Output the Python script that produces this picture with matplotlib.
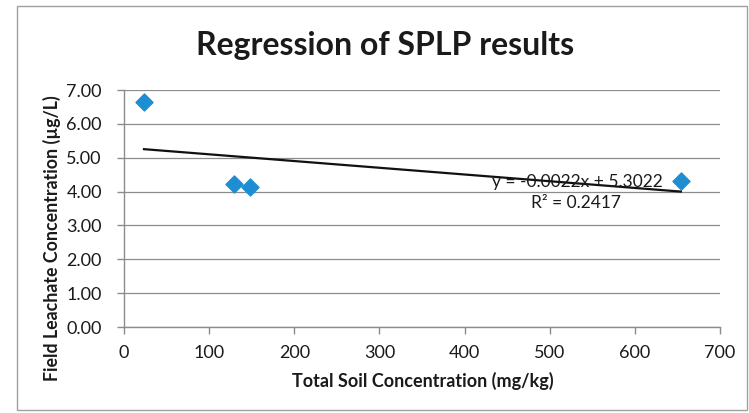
import matplotlib
matplotlib.use("Agg")
import matplotlib.pyplot as plt
import numpy as np
from matplotlib.patches import Rectangle

plt.rcParams['font.family'] = ['Lato', 'DejaVu Sans']

# Data
soil_conc = [23.5, 129, 148, 654]          # mg/kg
leachate_conc = [6.64, 4.22, 4.13, 4.31]   # µg/L
slope = -0.0022       # as printed on chart
intercept = 5.3022    # as printed on chart
r_squared = 0.2417
x_ticks = [0, 100, 200, 300, 400, 500, 600, 700]
y_ticks = [0, 1, 2, 3, 4, 5, 6, 7]

fig = plt.figure(figsize=(7.49, 4.13), dpi=100)
fig.patch.set_facecolor('white')
W, H = 749, 413
ax = fig.add_axes([124 / W, 1 - 327 / H, (720 - 124) / W, (327 - 90) / H])

# outer chart border
fig.patches.append(Rectangle((17 / W, 1 - 410 / H), (747 - 17) / W, (410 - 6) / H,
                             transform=fig.transFigure, fill=False,
                             edgecolor='#a0a0a0', linewidth=1.0))

ax.scatter(soil_conc, leachate_conc, marker='D', s=75, color='#1e8ed3',
           edgecolors='#1e8ed3', zorder=3, clip_on=False)

# linear trendline fitted to the data
fit = np.polyfit(soil_conc, leachate_conc, 1)
xl = np.array([min(soil_conc), max(soil_conc)])
ax.plot(xl, np.polyval(fit, xl), color='#111111', linewidth=1.6, zorder=4)

ax.set_xlim(0, 700)
ax.set_ylim(0, 7)
ax.set_xticks(x_ticks)
ax.set_yticks(y_ticks)
ax.set_xticklabels([str(v) for v in x_ticks])
ax.set_yticklabels([f"{v:.2f}" for v in y_ticks])
ax.grid(axis='y', color='#8c8c8c', linewidth=0.9)
ax.set_axisbelow(True)
for s in ['top', 'right']:
    ax.spines[s].set_visible(False)
for s in ['left', 'bottom']:
    ax.spines[s].set_color('#8c8c8c')
    ax.spines[s].set_linewidth(1.0)
ax.tick_params(axis='both', colors='#8c8c8c', labelcolor='#1a1a1a',
               labelsize=13, length=5, width=1.0, direction='out')
ax.tick_params(axis='x', pad=8)
ax.tick_params(axis='y', pad=11)

fig.text(385 / W, 1 - 45 / H, 'Regression of SPLP results', fontsize=23,
         fontweight='bold', color='#1a1a1a', ha='center', va='center')
fig.text(423 / W, 1 - 381 / H, 'Total Soil Concentration (mg/kg)', fontsize=13,
         fontweight='bold', color='#1a1a1a', ha='center', va='center')
fig.text(52 / W, 1 - 238 / H, 'Field Leachate Concentration (µg/L)', fontsize=12.8,
         fontweight='bold', color='#1a1a1a', ha='center', va='center', rotation=90)

ax.text(0.760, 0.612, f"y = {slope:.4f}x + {intercept:.4f}", transform=ax.transAxes,
        ha='center', va='center', fontsize=12.5, color='#1a1a1a', zorder=5)
ax.text(0.758, 0.523, f"R² = {r_squared:.4f}", transform=ax.transAxes,
        ha='center', va='center', fontsize=12.5, color='#1a1a1a', zorder=5)

fig.savefig('out.png', dpi=100, facecolor='white')
